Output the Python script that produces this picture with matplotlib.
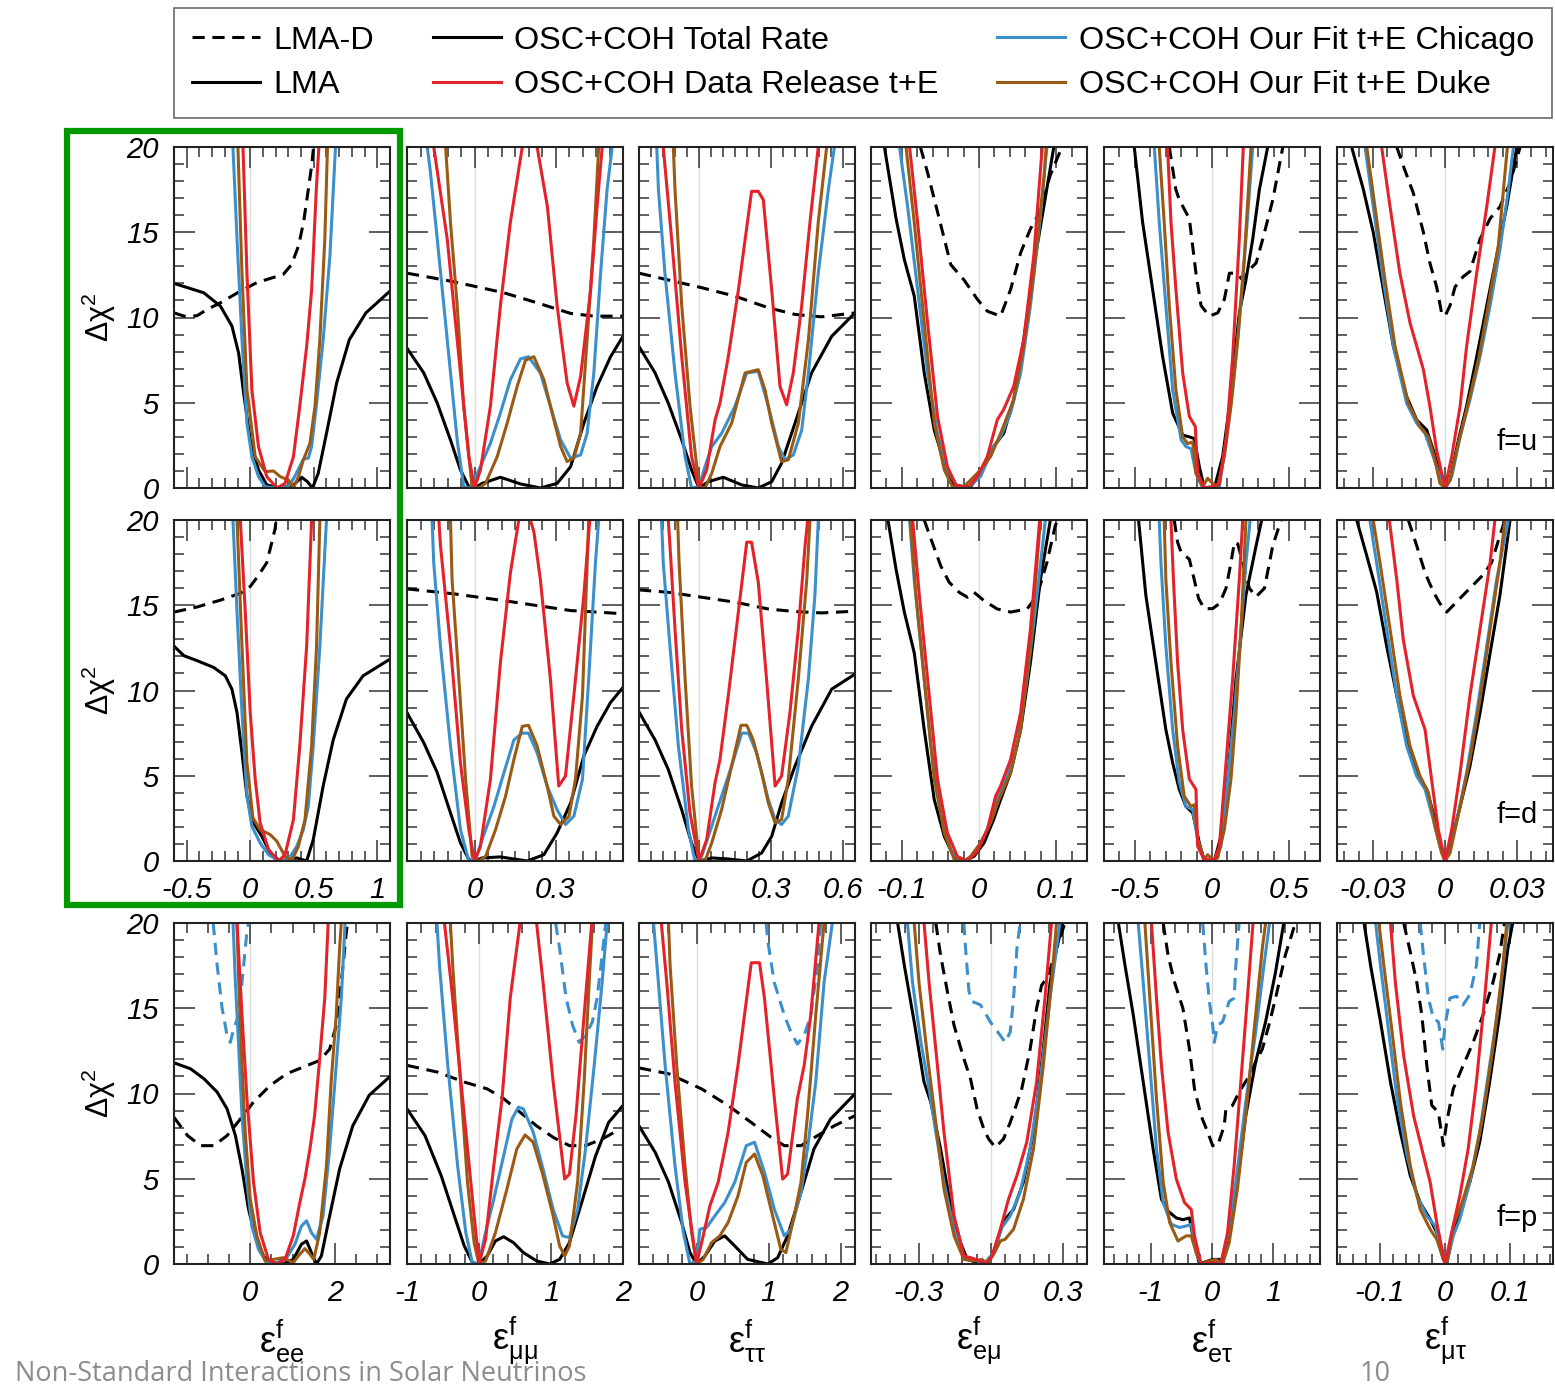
import numpy as np
import matplotlib
matplotlib.use("Agg")
import matplotlib.pyplot as plt
from matplotlib.lines import Line2D
from matplotlib.patches import Rectangle
from matplotlib.ticker import MultipleLocator

plt.rcParams['font.family'] = ['Liberation Sans', 'DejaVu Sans']
plt.rcParams['mathtext.fontset'] = 'dejavusans'
plt.rcParams['axes.unicode_minus'] = False

# ---------------- f = u ----------------
u_ee_lmad = [(-0.6,10.27),(-0.52,10.08),(-0.42,10.1),(-0.34,10.47),(-0.235,10.86),(-0.10,11.45),(0.05,12.04),(0.26,12.53),(0.325,13.1),(0.38,14.2),(0.42,15.6),(0.457,17.5),(0.483,18.9),(0.50,20.1)]
u_ee_lma = [(-0.6,12.0),(-0.366,11.45),(-0.235,10.67),(-0.144,9.5),(-0.091,7.9),(-0.052,5.57),(0,2.8),(0.065,1.06),(0.13,0.18),(0.235,0),(0.34,0.18),(0.405,0.63),(0.45,0.37),(0.49,0),(0.535,0.86),(0.60,3.2),(0.68,6.16),(0.78,8.7),(0.91,10.27),(1.1,11.55)]
u_ee_chicago = [(-0.136,20),(-0.104,14.6),(-0.065,8.7),(-0.026,3.8),(0.013,1.84),(0.065,0.67),(0.117,0.08),(0.21,0),(0.30,0.08),(0.35,0.67),(0.418,1.69),(0.457,1.75),(0.483,2.43),(0.52,4.8),(0.574,8.7),(0.627,13.6),(0.671,20)]
u_ee_duke = [(-0.097,20),(-0.065,12.6),(-0.026,5.76),(0.039,1.84),(0.117,0.96),(0.183,1.0),(0.235,0.67),(0.30,0.47),(0.34,0),(0.38,0.67),(0.418,1.65),(0.47,2.63),(0.51,4.8),(0.548,8.7),(0.587,14.6),(0.608,20)]
u_ee_release = [(-0.057,20),(-0.026,12.6),(0.013,5.76),(0.065,2.43),(0.13,0.67),(0.21,0),(0.274,0.27),(0.34,1.84),(0.39,4.8),(0.444,8.3),(0.483,11.6),(0.52,17.5),(0.54,20)]

u_mm_lmad = [(-0.25,12.6),(-0.077,12.1),(0.109,11.45),(0.232,10.86),(0.356,10.24),(0.442,10.08),(0.55,10.08)]
u_mm_lma = [(-0.25,8.2),(-0.188,6.75),(-0.138,4.98),(-0.089,2.82),(-0.052,1.06),(-0.021,0.08),(0,0),(0.028,0.27),(0.096,0.63),(0.17,0.24),(0.244,0),(0.306,0.27),(0.356,1.25),(0.405,3.8),(0.454,5.96),(0.504,7.7),(0.55,8.9)]
u_mm_chicago = [(-0.175,20),(-0.163,18.5),(-0.138,14.6),(-0.101,8.7),(-0.064,2.8),(-0.04,0.08),(-0.015,0),(0.022,1.25),(0.059,2.63),(0.096,4.4),(0.133,6.35),(0.17,7.57),(0.20,7.7),(0.244,6.75),(0.281,4.8),(0.319,2.82),(0.356,1.75),(0.393,1.94),(0.417,3.2),(0.442,6.75),(0.467,12.6),(0.491,17.5),(0.51,20)]
u_mm_duke = [(-0.107,20),(-0.089,15.6),(-0.064,10.7),(-0.04,4.8),(-0.009,0.08),(0.016,0),(0.041,0.27),(0.084,1.84),(0.121,3.8),(0.158,5.96),(0.189,7.5),(0.22,7.7),(0.257,6.35),(0.294,4.0),(0.319,2.43),(0.343,1.55),(0.368,1.75),(0.393,3.2),(0.417,8.7),(0.442,14.6),(0.46,20)]
u_mm_release = [(-0.151,20),(-0.101,14.6),(-0.052,6.75),(-0.021,1.84),(0,0),(0.022,1.06),(0.059,4.8),(0.096,10.7),(0.133,15.6),(0.158,18.1),(0.177,20),(0.205,21.5),(0.232,20),(0.27,16.5),(0.306,10.7),(0.343,6.16),(0.368,4.8),(0.393,6.55),(0.43,11.6),(0.454,16.5),(0.473,20)]

u_tt_lmad = [(-0.25,12.6),(-0.128,12.2),(0.011,11.75),(0.15,11.25),(0.289,10.57),(0.40,10.18),(0.511,10.04),(0.65,10.27)]
u_tt_lma = [(-0.25,8.3),(-0.183,6.75),(-0.128,4.98),(-0.072,2.82),(-0.031,1.06),(0,0),(0.039,0.37),(0.101,0.63),(0.178,0.18),(0.247,0),(0.303,0.37),(0.344,1.45),(0.40,3.8),(0.469,6.75),(0.553,8.9),(0.65,10.27)]
u_tt_chicago = [(-0.176,20),(-0.169,17.5),(-0.142,12.6),(-0.10,6.75),(-0.058,1.84),(-0.031,0),(0,0.08),(0.025,1.25),(0.053,2.43),(0.094,3.2),(0.15,4.8),(0.199,6.75),(0.247,6.84),(0.289,4.8),(0.331,2.43),(0.358,1.65),(0.393,1.94),(0.428,3.4),(0.456,6.75),(0.497,12.6),(0.539,17.5),(0.564,20)]
u_tt_duke = [(-0.107,20),(-0.10,17.5),(-0.072,10.7),(-0.0375,4.8),(0,0.08),(0.025,0),(0.053,0.86),(0.0875,2.43),(0.136,3.8),(0.192,6.75),(0.247,6.94),(0.275,5.76),(0.303,3.8),(0.344,1.55),(0.372,1.65),(0.414,3.8),(0.456,8.7),(0.497,15.6),(0.532,20)]
u_tt_release = [(-0.149,20),(-0.114,14.6),(-0.072,7.7),(-0.031,1.84),(0,0),(0.032,1.06),(0.067,4.0),(0.0875,4.98),(0.122,7.7),(0.164,11.6),(0.219,17.4),(0.247,17.4),(0.268,16.9),(0.303,11.6),(0.3375,5.96),(0.365,4.88),(0.393,6.75),(0.428,10.7),(0.4625,15.6),(0.497,20)]

u_em_lmad = [(-0.076,20),(-0.0667,18.5),(-0.0538,16.2),(-0.0366,13.1),(-0.0194,12.2),(-0.002,11.06),(0.0108,10.37),(0.028,10.08),(0.041,11.65),(0.054,13.8),(0.0667,15.2),(0.079,16.2),(0.092,18.3),(0.1075,20)]
u_em_lma = [(-0.1226,20),(-0.1075,15.8),(-0.0968,13.4),(-0.0839,11.25),(-0.071,6.75),(-0.058,3.4),(-0.045,1.45),(-0.032,0.18),(-0.019,0.08),(-0.011,0.08),(0.002,0.86),(0.019,2.43),(0.032,3.2),(0.045,5.18),(0.058,8.7),(0.071,13.0),(0.084,16.5),(0.097,20)]
u_em_chicago = [(-0.103,20),(-0.0925,16.5),(-0.0796,11.65),(-0.0667,6.75),(-0.0538,3.2),(-0.041,1.06),(-0.028,0.08),(-0.015,0),(0.002,0.67),(0.019,2.43),(0.028,3.0),(0.041,4.4),(0.054,6.75),(0.0667,10.7),(0.079,15.6),(0.088,20)]
u_em_duke = [(-0.0946,20),(-0.084,15.6),(-0.071,9.7),(-0.058,3.8),(-0.045,1.06),(-0.0344,0.08),(-0.0215,0),(-0.0108,0.47),(0.002,1.06),(0.015,1.84),(0.028,3.2),(0.045,5.18),(0.058,8.3),(0.071,12.6),(0.084,18.1),(0.087,20)]
u_em_release = [(-0.09,20),(-0.0796,15.6),(-0.0667,9.7),(-0.0538,4.2),(-0.041,1.25),(-0.030,0.18),(-0.015,0),(-0.002,0.67),(0.0108,1.84),(0.0237,4.0),(0.032,4.6),(0.045,5.96),(0.058,8.7),(0.071,13.6),(0.082,20)]

u_et_lmad = [(-0.277,20),(-0.234,17.5),(-0.212,16.9),(-0.147,15.8),(-0.104,12.6),(-0.071,10.7),(-0.017,10.08),(0.037,10.27),(0.08,11.06),(0.113,12.6),(0.156,12.6),(0.199,12.2),(0.242,12.8),(0.286,13.2),(0.329,14.6),(0.394,16.9),(0.459,20)]
u_et_lma = [(-0.504,20),(-0.45,15.6),(-0.385,11.65),(-0.32,7.7),(-0.255,4.4),(-0.19,3.1),(-0.147,3.0),(-0.115,2.9),(-0.082,1.25),(-0.05,0),(0.015,0),(0.069,1.84),(0.113,4.8),(0.177,10.27),(0.22,12.2),(0.264,14.6),(0.307,17.5),(0.361,20)]
u_et_chicago = [(-0.374,20),(-0.342,15.6),(-0.299,10.7),(-0.255,5.76),(-0.20,2.82),(-0.169,2.43),(-0.136,2.3),(-0.104,0.86),(-0.06,0),(0.004,0.08),(0.048,0.08),(0.091,2.82),(0.134,5.76),(0.177,9.7),(0.22,14.6),(0.264,20)]
u_et_duke = [(-0.342,20),(-0.31,15.6),(-0.277,10.7),(-0.234,5.76),(-0.19,3.0),(-0.158,2.6),(-0.125,2.7),(-0.104,0.86),(-0.06,0.08),(-0.028,0.57),(0.004,0.27),(0.037,0.08),(0.08,1.84),(0.123,4.8),(0.167,8.7),(0.21,13.6),(0.253,20)]
u_et_release = [(-0.288,20),(-0.266,15.6),(-0.234,11.65),(-0.19,6.75),(-0.147,4.2),(-0.108,3.6),(-0.093,0.86),(-0.05,0),(0.004,0.08),(0.048,0.27),(0.091,2.82),(0.134,7.7),(0.177,14.6),(0.203,20)]

u_mt_lmad = [(-0.0201,20),(-0.0174,18.9),(-0.0132,17.3),(-0.009,15.0),(-0.0063,13.2),(-0.0035,11.8),(-0.0014,10.27),(0,10.08),(0.0021,10.7),(0.0042,11.8),(0.0076,12.4),(0.0104,12.7),(0.0146,14.6),(0.0188,15.8),(0.0229,16.5),(0.0271,17.9),(0.0313,20)]
u_mt_lma = [(-0.0389,20),(-0.034,17.5),(-0.0299,15.0),(-0.0257,11.65),(-0.0215,8.3),(-0.016,5.37),(-0.0118,4.0),(-0.0076,3.4),(-0.0049,2.23),(-0.0021,0.86),(0,0),(0.0021,0.47),(0.0056,2.82),(0.009,4.8),(0.0132,7.7),(0.0174,10.7),(0.0215,13.6),(0.0257,16.5),(0.0299,20)]
u_mt_chicago = [(-0.0333,20),(-0.0299,16.5),(-0.0257,12.2),(-0.0215,8.3),(-0.016,4.98),(-0.0118,3.8),(-0.0083,3.2),(-0.0049,1.84),(-0.0021,0.67),(0,0),(0.0028,0.67),(0.0063,3.0),(0.0104,5.18),(0.0146,7.7),(0.0188,10.7),(0.0229,14.0),(0.0264,17.5),(0.0285,20)]
u_mt_duke = [(-0.0326,20),(-0.0292,16.5),(-0.025,12.2),(-0.0208,8.3),(-0.0153,4.98),(-0.0104,3.6),(-0.0069,3.0),(-0.0042,1.65),(-0.0021,0.27),(0,0),(0.0021,0.47),(0.0056,2.63),(0.0097,4.98),(0.0139,7.5),(0.018,10.7),(0.0222,14.2),(0.026,20)]
u_mt_release = [(-0.0264,20),(-0.0229,16.5),(-0.0188,12.6),(-0.0146,9.7),(-0.009,6.94),(-0.0063,4.8),(-0.0035,2.23),(0,0),(0.0028,1.84),(0.0063,4.8),(0.009,8.3),(0.0132,12.6),(0.0174,16.5),(0.0208,20)]

# ---------------- f = d ----------------
d_ee_lmad = [(-0.6,14.6),(-0.418,14.9),(-0.235,15.3),(-0.078,15.7),(0,16.1),(0.065,16.75),(0.13,17.5),(0.17,18.7),(0.196,19.5),(0.204,20)]
d_ee_lma = [(-0.6,12.6),(-0.522,12.04),(-0.418,11.75),(-0.287,11.35),(-0.196,10.86),(-0.144,10.08),(-0.104,8.7),(-0.065,6.35),(-0.026,3.8),(0.026,2.23),(0.091,1.45),(0.157,0.47),(0.235,0),(0.366,0.18),(0.444,0),(0.496,1.25),(0.574,4.4),(0.653,7.1),(0.757,9.5),(0.888,10.86),(1.1,11.84)]
d_ee_chicago = [(-0.136,20),(-0.104,14.6),(-0.065,8.7),(-0.026,3.8),(0.013,2.04),(0.078,1.06),(0.144,0.37),(0.209,0.08),(0.30,0.08),(0.366,0.86),(0.418,1.84),(0.457,3.2),(0.496,6.75),(0.548,12.6),(0.60,20)]
d_ee_duke = [(-0.104,20),(-0.065,12.6),(-0.026,5.76),(0.021,2.53),(0.078,1.84),(0.157,1.55),(0.209,1.16),(0.274,0.27),(0.326,0),(0.379,0.86),(0.431,2.43),(0.483,6.75),(0.522,12.6),(0.548,20)]
d_ee_release = [(-0.078,20),(-0.039,14.6),(0,8.7),(0.039,4.8),(0.078,2.23),(0.144,0.67),(0.222,0),(0.274,0.37),(0.34,2.43),(0.39,6.75),(0.444,12.6),(0.47,17.5),(0.483,20)]

d_mm_lmad = [(-0.25,15.96),(-0.077,15.67),(0.109,15.27),(0.232,14.98),(0.356,14.69),(0.454,14.6),(0.55,14.5)]
d_mm_lma = [(-0.25,8.7),(-0.188,6.94),(-0.138,5.18),(-0.089,2.82),(-0.052,1.06),(-0.021,0.08),(0,0),(0.028,0.18),(0.096,0.24),(0.195,0),(0.257,0.37),(0.306,1.65),(0.356,3.4),(0.405,6.16),(0.454,7.9),(0.504,9.3),(0.55,10.18)]
d_mm_chicago = [(-0.157,20),(-0.151,17.5),(-0.126,12.6),(-0.089,6.75),(-0.052,1.84),(-0.021,0),(0.004,0.08),(0.028,1.25),(0.072,3.2),(0.109,5.18),(0.146,7.1),(0.177,7.5),(0.20,7.5),(0.232,6.35),(0.269,4.4),(0.306,3.0),(0.337,2.14),(0.368,2.63),(0.40,4.8),(0.423,10.7),(0.448,17.5),(0.46,20)]
d_mm_duke = [(-0.089,20),(-0.083,16.5),(-0.058,10.7),(-0.033,4.8),(-0.009,0.27),(0.016,0),(0.041,0.27),(0.078,1.84),(0.115,3.8),(0.146,5.96),(0.177,7.9),(0.20,7.96),(0.232,6.75),(0.269,4.4),(0.294,2.63),(0.319,2.14),(0.35,2.63),(0.374,4.8),(0.40,9.7),(0.423,20)]
d_mm_release = [(-0.132,20),(-0.126,18.5),(-0.089,12.6),(-0.052,5.76),(-0.021,1.84),(0,0),(0.022,0.86),(0.059,4.8),(0.096,11.65),(0.133,16.9),(0.164,20),(0.185,20.6),(0.207,20),(0.22,19.3),(0.244,16.5),(0.281,10.7),(0.312,4.4),(0.337,4.98),(0.368,9.7),(0.405,15.6),(0.427,20)]

d_tt_lmad = [(-0.25,15.9),(-0.128,15.76),(0.011,15.47),(0.15,15.18),(0.289,14.78),(0.40,14.63),(0.511,14.55),(0.65,14.65)]
d_tt_lma = [(-0.25,8.74),(-0.183,7.1),(-0.128,5.37),(-0.072,3.0),(-0.031,1.06),(0,0),(0.053,0.18),(0.122,0.12),(0.199,0),(0.261,0.47),(0.303,1.45),(0.344,3.4),(0.40,5.57),(0.469,7.9),(0.553,10.08),(0.65,10.96)]
d_tt_chicago = [(-0.156,20),(-0.149,17.5),(-0.121,12.6),(-0.086,6.75),(-0.044,1.84),(-0.017,0),(0.011,0.27),(0.039,1.45),(0.08,3.2),(0.136,5.57),(0.178,7.5),(0.206,7.5),(0.24,6.35),(0.289,3.6),(0.317,2.43),(0.344,2.14),(0.372,2.63),(0.414,5.57),(0.456,10.7),(0.483,15.6),(0.497,20)]
d_tt_duke = [(-0.089,20),(-0.083,17.5),(-0.058,10.7),(-0.031,4.4),(0,0.08),(0.025,0),(0.053,1.06),(0.094,3.0),(0.136,5.57),(0.175,7.96),(0.199,7.96),(0.226,7.1),(0.261,5.18),(0.289,3.4),(0.317,2.23),(0.344,2.43),(0.372,4.8),(0.414,10.7),(0.449,16.5),(0.4625,20)]
d_tt_release = [(-0.128,20),(-0.121,18.5),(-0.10,13.6),(-0.072,7.7),(-0.0375,2.82),(0,0),(0.032,1.25),(0.067,4.6),(0.0875,5.96),(0.122,9.7),(0.164,14.6),(0.199,18.7),(0.219,18.7),(0.247,16.35),(0.2815,10.67),(0.317,4.4),(0.344,4.98),(0.379,8.7),(0.414,13.6),(0.442,18.5),(0.453,20)]

d_em_lmad = [(-0.071,20),(-0.0624,18.9),(-0.0495,17.3),(-0.0387,16.35),(-0.0258,15.76),(-0.015,15.47),(-0.0065,15.76),(0.0065,15.27),(0.0237,14.78),(0.041,14.6),(0.0624,14.78),(0.0753,15.57),(0.088,17.5),(0.099,19.7),(0.103,20)]
d_em_lma = [(-0.118,20),(-0.1075,17.1),(-0.0968,14.6),(-0.0839,12.2),(-0.071,7.7),(-0.058,3.6),(-0.045,1.45),(-0.032,0.18),(-0.019,0),(-0.0065,0.27),(0.0065,1.06),(0.019,2.43),(0.028,3.6),(0.041,5.18),(0.054,7.7),(0.0667,11.65),(0.0796,16.5),(0.0925,20)]
d_em_chicago = [(-0.09,20),(-0.084,16.5),(-0.0753,12.6),(-0.0624,6.75),(-0.0495,2.82),(-0.0366,0.67),(-0.0258,0.08),(-0.015,0),(-0.002,0.67),(0.0108,1.84),(0.0237,3.6),(0.0366,4.98),(0.0495,6.75),(0.0624,10.7),(0.0753,15.6),(0.086,20)]
d_em_duke = [(-0.089,20),(-0.0817,15.6),(-0.071,10.7),(-0.058,4.8),(-0.045,1.65),(-0.032,0.08),(-0.019,0),(-0.011,0.27),(0.002,1.06),(0.015,2.23),(0.0258,3.6),(0.041,5.18),(0.054,7.7),(0.0667,12.6),(0.0796,20)]
d_em_release = [(-0.086,20),(-0.0774,15.6),(-0.0667,10.7),(-0.0538,4.8),(-0.041,1.65),(-0.028,0.27),(-0.015,0),(-0.002,0.57),(0.0108,1.84),(0.0215,3.8),(0.028,4.4),(0.041,5.96),(0.054,8.7),(0.0667,13.6),(0.0787,20)]

d_et_lmad = [(-0.245,20),(-0.223,18.7),(-0.20,18.1),(-0.147,17.7),(-0.115,16.5),(-0.087,15.4),(-0.05,14.8),(0.004,14.8),(0.048,15.1),(0.091,16.0),(0.123,17.5),(0.145,18.7),(0.167,18.6),(0.199,17.5),(0.242,16.0),(0.286,15.5),(0.34,16.0),(0.394,18.5),(0.448,20)]
d_et_lma = [(-0.476,20),(-0.429,15.6),(-0.364,11.65),(-0.299,7.7),(-0.255,5.76),(-0.212,4.2),(-0.169,3.2),(-0.125,2.82),(-0.082,1.06),(-0.05,0),(0.015,0),(0.058,1.45),(0.102,4.8),(0.156,10.7),(0.22,15.6),(0.286,18.5),(0.322,20)]
d_et_chicago = [(-0.342,20),(-0.331,17.5),(-0.299,12.6),(-0.255,7.7),(-0.212,4.6),(-0.169,3.2),(-0.125,3.0),(-0.093,1.25),(-0.05,0),(0.015,0),(0.058,0.86),(0.102,4.8),(0.145,8.7),(0.188,13.6),(0.22,17.5),(0.247,20)]
d_et_duke = [(-0.31,20),(-0.299,16.5),(-0.266,11.65),(-0.223,6.75),(-0.18,3.8),(-0.136,3.2),(-0.115,3.3),(-0.093,1.25),(-0.05,0.08),(-0.028,0.37),(0.004,0.08),(0.037,0.18),(0.08,1.84),(0.123,4.8),(0.156,8.7),(0.188,13.6),(0.22,20)]
d_et_release = [(-0.266,20),(-0.25,16.5),(-0.223,11.65),(-0.19,7.7),(-0.147,4.8),(-0.104,4.2),(-0.093,0.86),(-0.05,0.08),(0.015,0.08),(0.048,0.86),(0.091,5.76),(0.134,10.7),(0.177,16.5),(0.199,20)]

d_mt_lmad = [(-0.0153,20),(-0.0118,18.5),(-0.0083,16.9),(-0.0049,15.8),(-0.0021,15.1),(0.0007,14.6),(0.0035,15.0),(0.0076,15.6),(0.0118,16.2),(0.016,16.8),(0.0194,17.5),(0.0229,19.1),(0.025,20)]
d_mt_lma = [(-0.0368,20),(-0.0326,17.9),(-0.0285,15.8),(-0.0243,12.6),(-0.0201,9.7),(-0.016,7.1),(-0.0118,5.18),(-0.0076,4.2),(-0.0049,2.82),(-0.0021,1.06),(0,0),(0.0021,0.86),(0.0063,3.2),(0.0104,5.57),(0.0146,8.7),(0.0188,12.2),(0.0229,15.6),(0.0271,20)]
d_mt_chicago = [(-0.0313,20),(-0.0285,17.5),(-0.0243,13.6),(-0.0201,9.7),(-0.016,6.75),(-0.0118,4.98),(-0.0083,4.2),(-0.0049,2.43),(-0.0021,0.86),(0,0),(0.0021,0.67),(0.0056,2.82),(0.009,5.18),(0.0132,8.7),(0.0174,12.6),(0.0215,16.5),(0.0264,20)]
d_mt_duke = [(-0.0299,20),(-0.0271,17.5),(-0.0229,13.6),(-0.0188,9.7),(-0.0146,6.75),(-0.0104,4.98),(-0.0069,4.0),(-0.0042,2.04),(-0.0014,0.47),(0,0),(0.0021,0.47),(0.0063,3.2),(0.0104,5.96),(0.0146,9.5),(0.0188,13.6),(0.0229,17.5),(0.025,20)]
d_mt_release = [(-0.0232,20),(-0.0201,16.5),(-0.0174,13.0),(-0.0132,9.7),(-0.0083,7.7),(-0.0056,4.8),(-0.0028,1.84),(0,0),(0.0028,1.84),(0.0063,5.18),(0.0104,9.7),(0.0146,13.6),(0.0188,17.5),(0.0208,20)]

# ---------------- f = p ----------------
p_ee_lmad = [(-1.8,8.6),(-1.48,7.53),(-1.17,6.94),(-0.86,6.94),(-0.547,7.53),(-0.234,8.5),(0.078,9.5),(0.47,10.47),(0.86,11.16),(1.25,11.55),(1.64,11.94),(1.875,12.6),(2.03,14.0),(2.15,16.5),(2.27,19.5),(2.30,20)]
p_ee_lma = [(-1.8,11.8),(-1.41,11.45),(-1.09,10.86),(-0.78,10.08),(-0.547,9.1),(-0.35,7.53),(-0.195,5.57),(-0.039,3.2),(0.117,1.65),(0.3125,0.47),(0.47,0),(0.78,0),(1.016,0.27),(1.21,1.16),(1.33,1.35),(1.445,0.67),(1.5625,0),(1.68,0.47),(1.875,2.82),(2.11,5.57),(2.42,8.1),(2.81,9.9),(3.3,11.0)]
p_ee_chicago_d = [(-0.875,20),(-0.78,17.5),(-0.664,15.0),(-0.547,13.4),(-0.47,13.0),(-0.39,13.8),(-0.27,14.6),(-0.195,16.5),(-0.078,19.5),(-0.039,20)]
p_ee_chicago = [(-0.406,20),(-0.35,16.5),(-0.27,12.6),(-0.195,8.7),(-0.078,4.8),(0.039,2.23),(0.195,0.86),(0.39,0.08),(0.625,0.08),(0.86,0.37),(1.055,1.16),(1.21,2.23),(1.33,2.53),(1.445,1.84),(1.5625,1.45),(1.72,2.82),(1.875,6.75),(2.03,11.65),(2.15,15.6),(2.24,20)]
p_ee_duke = [(-0.3125,20),(-0.27,16.5),(-0.195,11.65),(-0.117,7.7),(0,3.8),(0.156,1.65),(0.35,0.18),(0.547,0.27),(0.78,0.37),(1.016,0.08),(1.17,0.57),(1.29,0.9),(1.41,0.57),(1.5,0.27),(1.64,1.84),(1.80,5.76),(1.91,10.67),(2.03,14.6),(2.11,18.5),(2.15,20)]
p_ee_release = [(-0.3125,20),(-0.195,14.6),(-0.078,9.7),(0.078,4.8),(0.234,1.84),(0.43,0.27),(0.625,0),(0.82,0.27),(1.016,1.65),(1.17,3.6),(1.29,4.98),(1.41,6.75),(1.52,8.7),(1.64,12.04),(1.76,15.6),(1.84,20)]

p_mm_lmad = [(-1.0,11.65),(-0.571,11.25),(-0.205,10.67),(0.114,10.27),(0.342,9.7),(0.57,8.9),(0.8,8.1),(1.03,7.43),(1.256,6.94),(1.48,6.94),(1.71,7.33),(1.92,7.82)]
p_mm_lma = [(-1.0,9.1),(-0.75,7.53),(-0.525,5.18),(-0.342,2.82),(-0.205,1.06),(-0.09,0.08),(0,0),(0.114,0.47),(0.228,1.35),(0.342,1.6),(0.48,1.25),(0.616,0.67),(0.8,0.18),(0.98,0),(1.12,0.27),(1.256,1.25),(1.44,3.8),(1.62,6.35),(1.80,8.3),(2.0,9.3)]
p_mm_chicago_d = [(1.064,20),(1.12,18.5),(1.21,15.6),(1.30,14.0),(1.39,13.0),(1.48,13.4),(1.575,14.2),(1.64,15.6),(1.71,18.1),(1.76,20)]
p_mm_chicago = [(-0.584,20),(-0.548,17.5),(-0.434,11.65),(-0.297,5.76),(-0.183,1.84),(-0.09,0),(0,0.08),(0.091,1.84),(0.205,3.8),(0.342,6.35),(0.457,8.5),(0.548,9.2),(0.616,9.1),(0.753,7.73),(0.89,5.57),(1.03,3.2),(1.16,1.65),(1.256,1.55),(1.37,3.2),(1.48,6.75),(1.6,11.65),(1.71,16.5),(1.78,20)]
p_mm_duke = [(-0.397,20),(-0.365,17.5),(-0.274,11.65),(-0.16,4.8),(-0.068,1.25),(0,0),(0.091,0.18),(0.228,1.84),(0.388,4.4),(0.525,6.75),(0.64,7.57),(0.753,7.14),(0.89,5.18),(1.03,2.82),(1.12,1.06),(1.19,0.47),(1.256,1.06),(1.37,4.8),(1.46,10.67),(1.53,16.5),(1.575,20)]
p_mm_release = [(-0.48,20),(-0.388,16.5),(-0.25,10.67),(-0.114,4.8),(0,0),(0.091,1.45),(0.205,5.76),(0.32,9.7),(0.434,15.6),(0.57,20),(0.685,21.5),(0.80,20),(0.89,16.5),(1.03,10.67),(1.19,4.98),(1.256,5.27),(1.347,8.7),(1.46,14.6),(1.566,20)]

p_tt_lmad = [(-0.8,11.5),(-0.39,11.16),(0.069,10.27),(0.437,9.3),(0.759,8.3),(1.034,7.43),(1.218,6.94),(1.45,6.94),(1.68,7.53),(1.91,8.1),(2.2,8.7)]
p_tt_lma = [(-0.8,8.1),(-0.575,6.55),(-0.39,4.8),(-0.207,2.43),(-0.092,0.67),(0,0),(0.115,0.47),(0.253,1.35),(0.39,1.65),(0.53,1.06),(0.71,0.27),(0.99,0),(1.126,0.37),(1.264,1.65),(1.45,4.2),(1.63,6.75),(1.86,8.5),(2.2,9.98)]
p_tt_chicago_d = [(0.966,20),(0.99,18.9),(1.08,16.5),(1.218,14.6),(1.31,13.6),(1.40,12.9),(1.494,13.4),(1.586,14.6),(1.68,17.5),(1.724,20)]
p_tt_chicago = [(-0.598,20),(-0.55,17.5),(-0.437,11.65),(-0.3,5.76),(-0.184,1.84),(-0.092,0),(0,0.18),(0.046,2.04),(0.138,2.14),(0.253,2.82),(0.39,3.6),(0.53,4.8),(0.69,6.94),(0.805,7.14),(0.943,5.37),(1.08,3.2),(1.218,1.65),(1.31,2.04),(1.45,4.2),(1.54,6.75),(1.655,10.67),(1.77,16.5),(1.885,20)]
p_tt_duke = [(-0.39,20),(-0.368,17.5),(-0.276,11.65),(-0.161,5.76),(-0.069,1.84),(0,0),(0.092,0.27),(0.207,1.25),(0.322,1.65),(0.437,2.43),(0.575,4.0),(0.69,5.96),(0.805,6.45),(0.92,5.18),(1.034,3.2),(1.17,0.86),(1.24,0.67),(1.356,2.82),(1.45,4.8),(1.54,8.7),(1.655,14.6),(1.77,20)]
p_tt_release = [(-0.49,20),(-0.414,16.5),(-0.3,10.67),(-0.161,4.8),(0,0),(0.092,1.65),(0.184,3.4),(0.3,4.8),(0.437,7.7),(0.575,11.65),(0.759,17.67),(0.874,17.67),(0.943,15.57),(1.08,9.7),(1.195,4.98),(1.264,5.27),(1.40,9.7),(1.494,11.65),(1.586,14.6),(1.70,20)]

p_em_lmad = [(-0.23,20),(-0.21,18.1),(-0.182,16.0),(-0.154,14.0),(-0.113,12.04),(-0.0855,10.86),(-0.058,9.1),(-0.03,7.92),(-0.0097,7.33),(0.018,6.84),(0.052,7.33),(0.08,8.3),(0.1,9.1),(0.128,10.27),(0.163,12.6),(0.19,15.0),(0.211,16.35),(0.239,16.9),(0.273,18.5),(0.308,20)]
p_em_lma = [(-0.389,20),(-0.361,17.5),(-0.32,14.2),(-0.279,10.67),(-0.251,9.5),(-0.21,6.75),(-0.168,3.4),(-0.127,1.25),(-0.099,0.27),(-0.058,0.08),(-0.0166,0),(0.011,0.67),(0.052,2.53),(0.094,3.2),(0.135,4.8),(0.177,7.7),(0.218,12.6),(0.246,16.5),(0.273,18.5),(0.30,20)]
p_em_chicago_d = [(-0.113,20),(-0.106,18.5),(-0.092,16.0),(-0.079,15.4),(-0.044,15.2),(-0.003,14.2),(0.039,13.4),(0.059,13.0),(0.08,13.6),(0.094,15.6),(0.108,18.5),(0.121,20)]
p_em_chicago = [(-0.348,20),(-0.327,16.5),(-0.292,13.0),(-0.258,10.27),(-0.23,7.73),(-0.196,4.8),(-0.154,2.04),(-0.113,0.47),(-0.072,0.27),(-0.03,0),(0.011,0.67),(0.0455,2.14),(0.08,2.82),(0.121,4.2),(0.163,6.75),(0.204,10.67),(0.246,15.6),(0.287,20)]
p_em_duke = [(-0.32,20),(-0.30,16.5),(-0.265,12.2),(-0.23,8.3),(-0.196,4.4),(-0.154,1.65),(-0.113,0.27),(-0.072,0.18),(-0.037,0.27),(-0.0166,0),(0.011,0.57),(0.039,1.35),(0.059,1.45),(0.094,2.04),(0.135,3.8),(0.177,6.75),(0.218,11.65),(0.252,16.5),(0.273,20)]
p_em_release = [(-0.279,20),(-0.258,16.5),(-0.23,12.6),(-0.196,7.73),(-0.154,2.82),(-0.113,0.47),(-0.0855,0.37),(-0.044,0.18),(-0.023,0),(0.004,0.47),(0.039,2.04),(0.073,3.8),(0.108,5.18),(0.149,7.14),(0.19,10.67),(0.225,15.6),(0.252,20)]

p_et_lmad = [(-0.80,20),(-0.72,18.1),(-0.612,16.5),(-0.477,15.0),(-0.369,12.6),(-0.287,10.27),(-0.179,8.7),(-0.07,7.73),(0.011,6.94),(0.092,6.94),(0.2,8.1),(0.228,9.1),(0.336,9.3),(0.444,10.08),(0.58,10.86),(0.715,11.84),(0.824,12.6),(0.932,14.0),(1.04,15.57),(1.2,18.1),(1.366,20)]
p_et_lma = [(-1.534,20),(-1.425,17.5),(-1.29,14.6),(-1.127,10.67),(-0.965,6.75),(-0.829,3.8),(-0.72,3.1),(-0.585,2.7),(-0.477,2.6),(-0.369,2.7),(-0.314,1.65),(-0.206,0),(0.011,0.27),(0.173,0.27),(0.282,1.84),(0.417,4.8),(0.553,8.7),(0.715,11.84),(0.878,14.2),(1.04,17.1),(1.176,20)]
p_et_chicago_d = [(-0.152,20),(-0.0976,17.5),(-0.043,15.4),(0.011,14.0),(0.038,13.0),(0.092,14.0),(0.173,14.2),(0.228,14.8),(0.282,15.4),(0.363,15.6),(0.39,17.5),(0.444,20)]
p_et_chicago = [(-1.209,20),(-1.127,16.5),(-1.019,11.65),(-0.91,6.75),(-0.80,3.6),(-0.667,2.33),(-0.531,2.14),(-0.423,2.23),(-0.34,2.33),(-0.26,0.67),(-0.179,0),(0.011,0.08),(0.146,0.08),(0.255,1.65),(0.39,4.8),(0.553,9.5),(0.715,13.6),(0.851,17.5),(0.943,20)]
p_et_duke = [(-1.10,20),(-1.019,15.6),(-0.91,9.7),(-0.80,4.8),(-0.694,2.43),(-0.558,1.35),(-0.423,1.65),(-0.34,1.65),(-0.26,0.67),(-0.179,0),(-0.043,0.18),(0.065,0.27),(0.173,0),(0.282,1.25),(0.417,4.4),(0.553,8.7),(0.715,14.6),(0.824,18.5),(0.878,20)]
p_et_release = [(-0.992,20),(-0.91,15.6),(-0.829,11.65),(-0.72,7.73),(-0.585,4.98),(-0.45,3.6),(-0.34,3.2),(-0.287,1.65),(-0.179,0),(0.011,0.08),(0.146,0),(0.255,1.84),(0.363,5.76),(0.472,10.67),(0.58,15.6),(0.672,20)]

p_mt_lmad = [(-0.0631,20),(-0.053,18.3),(-0.043,16.5),(-0.0354,14.6),(-0.0278,11.65),(-0.0202,9.3),(-0.0101,8.9),(-0.0025,6.94),(0.0025,8.3),(0.0126,10.27),(0.0278,11.65),(0.043,13.0),(0.058,14.6),(0.0732,16.5),(0.0833,18.1),(0.0909,20)]
p_mt_lma = [(-0.1237,20),(-0.1136,17.5),(-0.0985,14.2),(-0.0833,10.67),(-0.0682,7.73),(-0.053,5.18),(-0.0379,3.6),(-0.0227,2.63),(-0.0126,1.84),(-0.0025,0.27),(0.0025,0),(0.0126,1.84),(0.0227,3.0),(0.0379,4.8),(0.053,7.14),(0.0682,10.67),(0.0833,14.6),(0.096,18.5),(0.1035,20)]
p_mt_chicago_d = [(-0.0379,20),(-0.0328,18.1),(-0.0253,15.6),(-0.0177,14.4),(-0.0101,14.2),(-0.005,13.0),(-0.0035,12.6),(0,14.0),(0.0076,15.6),(0.0177,15.7),(0.0278,15.2),(0.0379,15.8),(0.048,17.5),(0.053,20)]
p_mt_chicago = [(-0.106,20),(-0.0985,17.5),(-0.0859,13.6),(-0.0732,9.7),(-0.058,6.35),(-0.043,4.0),(-0.0278,2.82),(-0.015,2.23),(-0.005,0.86),(0.0025,0),(0.0126,1.65),(0.0227,2.63),(0.0379,4.8),(0.053,7.73),(0.0682,11.65),(0.0833,15.6),(0.096,20)]
p_mt_duke = [(-0.101,20),(-0.0934,17.5),(-0.0808,13.6),(-0.0682,9.5),(-0.053,5.76),(-0.0379,3.2),(-0.0227,2.04),(-0.0126,1.45),(-0.0025,0.27),(0.0025,0),(0.0126,2.23),(0.0278,3.8),(0.043,5.76),(0.058,8.7),(0.073,12.6),(0.0884,17.5),(0.0944,20)]
p_mt_release = [(-0.0833,20),(-0.0758,16.5),(-0.0631,12.2),(-0.048,8.7),(-0.0328,6.35),(-0.0227,4.8),(-0.0126,2.43),(0,0),(0.0101,1.84),(0.0227,4.0),(0.0354,6.75),(0.048,10.67),(0.0606,15.6),(0.0707,20)]

FLAVOURS = ['u', 'd', 'p']
COMPONENTS = ['ee', 'mm', 'tt', 'em', 'et', 'mt']
XLABELS = [r'$\mathregular{ε^{f}_{ee}}$', r'$\mathregular{ε^{f}_{μμ}}$', r'$\mathregular{ε^{f}_{ττ}}$',
           r'$\mathregular{ε^{f}_{eμ}}$', r'$\mathregular{ε^{f}_{eτ}}$', r'$\mathregular{ε^{f}_{μτ}}$']

XLIM_UD = [(-0.6, 1.1), (-0.25, 0.55), (-0.25, 0.65), (-0.14, 0.14), (-0.7, 0.7), (-0.045, 0.045)]
XLIM_P = [(-1.8, 3.3), (-1.0, 2.0), (-0.8, 2.2), (-0.5, 0.4), (-1.77, 1.77), (-0.165, 0.165)]
XMAJ_UD = [[-0.5, 0, 0.5, 1], [0, 0.3], [0, 0.3, 0.6], [-0.1, 0, 0.1], [-0.5, 0, 0.5], [-0.03, 0, 0.03]]
XMAJ_P = [[0, 2], [-1, 0, 1, 2], [0, 1, 2], [-0.3, 0, 0.3], [-1, 0, 1], [-0.1, 0, 0.1]]
XMIN_UD = [0.1, 0.05, 0.05, 0.02, 0.1, 0.006]
XMIN_P = [0.5, 0.2, 0.2, 0.06, 0.2, 0.02]

BLUE = '#3b8fca'
RED = '#e4222a'
BROWN = '#9a5a14'
DASH = (0, (4, 2.5))
LW = 2.2
STYLE = {
    'lmad': dict(color='black', ls=DASH),
    'lma': dict(color='black'),
    'chicago_d': dict(color=BLUE, ls=DASH),
    'chicago': dict(color=BLUE),
    'duke': dict(color=BROWN),
    'release': dict(color=RED),
}

W, H = 1555, 1387
COL_LEFT = [174, 407, 639, 871, 1104, 1337]
ROW_TOP = [147, 520, 923]
PW, PH = 216, 341

fig = plt.figure(figsize=(W / 100, H / 100), dpi=100)


def fmt(v):
    return ('%g' % v)


for r, flav in enumerate(FLAVOURS):
    for c, comp in enumerate(COMPONENTS):
        ax = fig.add_axes([COL_LEFT[c] / W, 1 - (ROW_TOP[r] + PH) / H, PW / W, PH / H])
        ax.axvline(0, color='#dcdcdc', lw=1.0, zorder=0.5)
        for key in ['lmad', 'lma', 'chicago_d', 'chicago', 'duke', 'release']:
            pts = globals().get(f'{flav}_{comp}_{key}')
            if pts is None:
                continue
            xs, ys = np.array(pts).T
            ax.plot(xs, ys, lw=LW, **STYLE[key])

        xlim = XLIM_P[c] if flav == 'p' else XLIM_UD[c]
        xmaj = XMAJ_P[c] if flav == 'p' else XMAJ_UD[c]
        xmin = XMIN_P[c] if flav == 'p' else XMIN_UD[c]
        ax.set_xlim(*xlim)
        ax.set_ylim(0, 20)
        ax.set_xticks(xmaj)
        ax.xaxis.set_minor_locator(MultipleLocator(xmin))
        ax.set_yticks([0, 5, 10, 15, 20])
        ax.yaxis.set_minor_locator(MultipleLocator(1))
        ax.tick_params(which='both', direction='in', top=True, right=True,
                       color='#333333', width=1.1)
        ax.tick_params(which='major', length=15, pad=11)
        ax.tick_params(which='minor', length=7.5)
        for s in ax.spines.values():
            s.set_linewidth(1.5)
            s.set_color('#222222')

        if r == 0:
            ax.set_xticklabels([])
        else:
            ax.set_xticklabels([fmt(v) for v in xmaj], fontsize=21, fontstyle='italic')
        if c == 0:
            ax.set_yticklabels(['0', '5', '10', '15', '20'], fontsize=21, fontstyle='italic')
            ax.set_ylabel(r'$\mathregular{Δχ^2}$', fontsize=22, labelpad=6)
        else:
            ax.set_yticklabels([])
        if c == 5:
            ax.text(0.93, 0.135, f'f={flav}', transform=ax.transAxes,
                    ha='right', va='center', fontsize=21)
        if r == 2:
            fig.text((COL_LEFT[c] + PW / 2) / W, 1 - 1341 / H, XLABELS[c],
                     ha='center', va='center', fontsize=26)

# legend box across the top
handles = [
    Line2D([], [], color='black', lw=LW, ls=DASH),
    Line2D([], [], color='black', lw=LW),
    Line2D([], [], color='black', lw=LW),
    Line2D([], [], color=RED, lw=LW),
    Line2D([], [], color=BLUE, lw=LW),
    Line2D([], [], color=BROWN, lw=LW),
]
labels = ['LMA-D', 'LMA', 'OSC+COH Total Rate', 'OSC+COH Data Release t+E',
          'OSC+COH Our Fit t+E Chicago', 'OSC+COH Our Fit t+E Duke']
leg = fig.legend(handles, labels, ncol=3, loc='upper left', mode='expand',
                 bbox_to_anchor=(174 / W, 1 - 8 / H, (1552 - 174) / W, 0.0),
                 fontsize=23.3, frameon=True, fancybox=False, edgecolor='#444444',
                 handlelength=2.1, handletextpad=0.42, labelspacing=0.45,
                 borderpad=0.55, borderaxespad=0)
leg.get_frame().set_linewidth(1.2)

# highlight around the ee column
fig.add_artist(Rectangle((66.5 / W, 1 - 905 / H), (400 - 66.5) / W, (905 - 131) / H,
                         transform=fig.transFigure, fill=False,
                         edgecolor='#009a00', linewidth=4.5))

fig.text(15 / W, 1 - 1381 / H, 'Non-Standard Interactions in Solar Neutrinos',
         fontsize=19.5, color='#8c8c8c', family='Open Sans', va='baseline')
fig.text(1375 / W, 1 - 1381 / H, '10', fontsize=19.5, color='#8c8c8c',
         family='Open Sans', va='baseline', ha='center')

fig.savefig('out.png', dpi=100)
